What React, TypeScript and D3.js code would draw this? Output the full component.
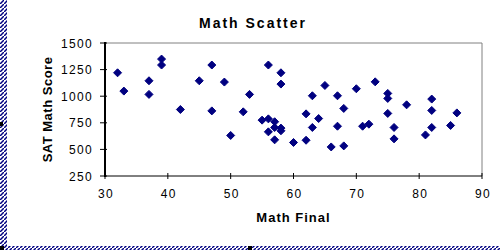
import React from "react";
import * as d3 from "d3";

const mathFinal = [32, 33, 37, 37, 39, 39, 42, 45, 47, 47, 49, 50, 52, 53, 55, 56, 56, 56, 57, 57, 57, 58, 58, 58, 58, 60, 62, 62, 63, 63, 64, 65, 66, 67, 67, 68, 68, 70, 71, 72, 73, 75, 75, 75, 76, 76, 78, 81, 82, 82, 82, 85, 86];
const satMath = [1220, 1048, 1145, 1017, 1349, 1293, 875, 1145, 1293, 862, 1133, 631, 853, 1017, 775, 787, 1293, 665, 760, 706, 590, 1220, 1114, 700, 675, 565, 834, 586, 1004, 706, 790, 1101, 523, 1004, 718, 885, 533, 1070, 718, 737, 1135, 1026, 979, 838, 706, 599, 919, 636, 973, 866, 706, 725, 843];
const xTicks = [30, 40, 50, 60, 70, 80, 90];
const yTicks = [250, 500, 750, 1000, 1250, 1500];

const title = "Math Scatter";
const xTitle = "Math Final";
const yTitle = "SAT Math Score";

export default function App() {
  const left = 105, right = 482, top = 43, bottom = 176;
  const x = d3.scaleLinear().domain([30, 90]).range([left, right]);
  const y = d3.scaleLinear().domain([250, 1500]).range([bottom, top]);
  const points = mathFinal.map((v, i) => ({ x: v, y: satMath[i] }));
  const diamond = (cx: number, cy: number) => {
    const r = 4;
    return `M${cx},${cy - r}L${cx + r},${cy}L${cx},${cy + r}L${cx - r},${cy}Z`;
  };
  const font = "'Liberation Sans', Arial, sans-serif";
  return (
    <svg width={500} height={250} style={{ position: "absolute", left: 0, top: 0, display: "block" }}>
      <defs>
        <pattern id="hatch" width="4" height="4" patternUnits="userSpaceOnUse">
          <rect width="4" height="4" fill="#fff" />
          <path d="M0,4L4,0" stroke="#000080" strokeWidth={1.5} />
        </pattern>
      </defs>
      <rect width={500} height={250} fill="#fff" />
      <rect x={0} y={0} width={7} height={250} fill="url(#hatch)" />
      <rect x={0} y={246} width={500} height={4} fill="url(#hatch)" />
      <rect x={0} y={246} width={4} height={4} fill="#000" />
      <rect x={0} y={122} width={3} height={4} fill="#000" />
      <rect x={248} y={246} width={4} height={4} fill="#000" />

      <text x={253} y={28} textAnchor="middle" fontFamily={font} fontWeight="bold" fontSize={14} letterSpacing={2}>{title}</text>

      {/* frame */}
      <line x1={left} x2={right} y1={top} y2={top} stroke="#808080" strokeWidth={1} />
      <line x1={right} x2={right} y1={top} y2={bottom} stroke="#808080" strokeWidth={1} />

      {/* y ticks */}
      {yTicks.map((t) => (
        <g key={"y" + t}>
          <line x1={100} x2={107} y1={y(t)} y2={y(t)} stroke="#000" />
          <text x={93} y={y(t) + 4.5} textAnchor="end" fontFamily={font} fontSize={12} letterSpacing={1.3}>{t}</text>
        </g>
      ))}
      {/* x ticks */}
      {xTicks.map((t) => (
        <g key={"x" + t}>
          <line x1={x(t)} x2={x(t)} y1={bottom - 3} y2={bottom + 3} stroke="#000" />
          <text x={x(t) + 1} y={198} textAnchor="middle" fontFamily={font} fontSize={12} letterSpacing={1.3}>{t}</text>
        </g>
      ))}
      <line x1={left} x2={right} y1={bottom} y2={bottom} stroke="#000" strokeWidth={1} />
      <line x1={left} x2={left} y1={top - 1} y2={bottom + 1} stroke="#000" strokeWidth={2} />

      {points.map((p, i) => (
        <path key={i} d={diamond(x(p.x), y(p.y))} fill="#000080" stroke="#000080" strokeWidth={1} />
      ))}

      <text x={(left + right) / 2} y={222} textAnchor="middle" fontFamily={font} fontWeight="bold" fontSize={13} letterSpacing={1}>{xTitle}</text>
      <text transform={`translate(52,${(top + bottom) / 2}) rotate(-90)`} textAnchor="middle" fontFamily={font} fontWeight="bold" fontSize={13} letterSpacing={0.5}>{yTitle}</text>
    </svg>
  );
}
